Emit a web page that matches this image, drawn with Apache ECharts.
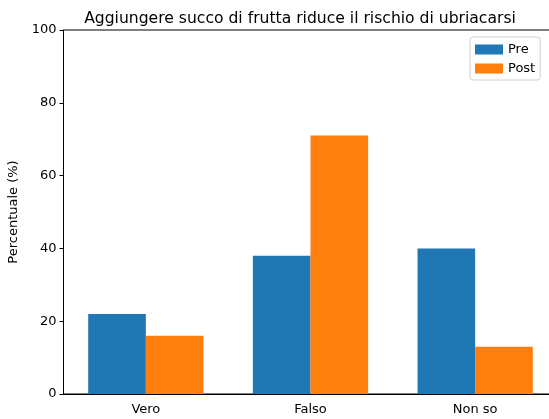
<!DOCTYPE html>
<html>
<head>
<meta charset="utf-8">
<script src="https://cdn.jsdelivr.net/npm/echarts@6/dist/echarts.min.js"></script>
<style>
  html, body { margin: 0; padding: 0; background: #fff; }
  #chart { width: 549px; height: 419px; }
</style>
</head>
<body>
<div id="chart"></div>
<script>
// dati
var categorie = ['Vero', 'Falso', 'Non so'];
var pre = [22, 38, 40];
var post = [16, 71, 13];
var yTicks = [0, 20, 40, 60, 80, 100];

var myChart = echarts.init(document.getElementById('chart'));
var font = 'DejaVu Sans';

option = {
    animation: false,
    title: {
        text: 'Aggiungere succo di frutta riduce il rischio di ubriacarsi',
        left: 295,
        textAlign: 'center',
        top: 6,
        textStyle: { fontFamily: font, fontSize: 15.6, fontWeight: 'normal', color: '#000' }
    },
    legend: {
        orient: 'vertical',
        left: 470,
        top: 37,
        padding: [6, 5, 5, 5],
        itemWidth: 28,
        itemHeight: 10,
        itemGap: 6,
        icon: 'rect',
        borderColor: '#d0d0d0',
        borderWidth: 1,
        borderRadius: 3,
        backgroundColor: '#fff',
        textStyle: { fontFamily: font, fontSize: 13, color: '#000' },
        data: ['Pre', 'Post']
    },
    grid: {
        left: 63.5, width: 494, top: 30, height: 364,
        outerBoundsMode: 'none',
        containLabel: false,
        show: true, borderColor: '#000', borderWidth: 1
    },
    xAxis: {
        type: 'category',
        data: categorie,
        axisLine: { lineStyle: { color: '#000', width: 1 } },
        axisTick: { alignWithLabel: true, length: 4, lineStyle: { color: '#000' } },
        axisLabel: { fontFamily: font, fontSize: 13, color: '#000', margin: 9 }
    },
    yAxis: {
        type: 'value',
        min: yTicks[0],
        max: yTicks[yTicks.length - 1],
        interval: 20,
        name: 'Percentuale (%)',
        nameLocation: 'middle',
        nameGap: 43,
        nameTextStyle: { fontFamily: font, fontSize: 13, color: '#000' },
        splitLine: { show: false },
        axisLine: { show: true, lineStyle: { color: '#000', width: 1 } },
        axisTick: { show: true, length: 4, lineStyle: { color: '#000' } },
        axisLabel: { fontFamily: font, fontSize: 13, color: '#000', margin: 7 }
    },
    series: [
        { name: 'Pre', type: 'bar', data: pre, barWidth: '35%', barGap: '0%', itemStyle: { color: '#1f77b4' } },
        { name: 'Post', type: 'bar', data: post, barWidth: '35%', barGap: '0%', itemStyle: { color: '#ff7f0e' } }
    ]
};

myChart.setOption(option);
</script>
</body>
</html>
